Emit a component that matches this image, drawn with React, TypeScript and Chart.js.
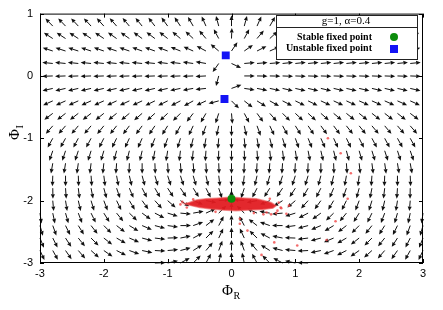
import React, { useEffect, useRef } from "react";
import { Chart, registerables } from "chart.js";

Chart.register(...registerables);

// ---- grid of the vector field ----
const gridX = [-3, -2.8, -2.6, -2.4, -2.2, -2, -1.8, -1.6, -1.4, -1.2, -1, -0.8, -0.6, -0.4, -0.2, 0, 0.2, 0.4, 0.6, 0.8, 1, 1.2, 1.4, 1.6, 1.8, 2, 2.2, 2.4, 2.6, 2.8, 3];
const gridY = [1, 0.8, 0.6, 0.4, 0.2, 0, -0.2, -0.4, -0.6, -0.8, -1, -1.2, -1.4, -1.6, -1.8, -2, -2.2, -2.4, -2.6, -2.8, -3];

// arrow direction (degrees, counter-clockwise from +Φ_R), one array per Φ_I row
const angRowP10 = [133,133,133,132,132,131,130,129,128,127,125,122,118,112,102, 90, 78,68,62,58,55,53,52,51,50,49,48,48,47,47,47];
const angRowP08 = [134,134,134,133,133,132,131,130,129,128,126,124,120,114,105, 90, 75,66,60,56,54,52,51,50,49,48,47,47,46,46,46];
const angRowP06 = [147,147,147,147,146,146,145,145,144,143,142,140,137,130,118, 88, 62,50,43,40,38,37,36,35,35,34,34,33,33,33,33];
const angRowP04 = [162,162,162,162,162,161,161,161,160,160,159,158,156,152,140, 56, 35,27,24,22,21,20,20,19,19,19,18,18,18,18,18];
const angRowP02 = [174,174,174,174,174,174,174,174,174,174,173,173,172,170,235, 335, 5,5,5,6,6,6,6,6,6,6,6,6,6,6,6];
const angRow000 = [182,182,182,182,182,182,182,182,182,182,182,182,182,183,255, null, 0,359,359,358,358,358,358,358,358,358,358,358,358,358,358];
const angRowM02 = [193,193,193,193,193,193,193,193,193,193,193,192,190,186,null, 20, 352,349,348,347,347,347,347,347,347,347,347,347,347,347,347];
const angRowM04 = [204,204,204,204,204,204,205,205,205,206,206,207,209,205,195, 315, 322,328,331,333,334,334,335,335,335,336,336,336,336,336,336];
const angRowM06 = [217,217,218,218,218,219,219,220,221,222,223,225,232,240,252, 275, 298,306,311,315,317,318,319,320,321,321,322,322,322,323,323];
const angRowM08 = [229,229,229,230,230,231,232,233,234,236,238,241,245,250,258, 270, 282,290,295,299,302,304,306,307,308,309,310,310,311,311,311];
const angRowM10 = [241,241,241,242,242,243,244,245,246,248,250,253,256,260,265, 270, 275,280,284,287,290,292,294,295,296,297,298,298,299,299,299];
const angRowM12 = [251,251,252,252,253,254,255,256,257,259,261,263,264,266,268, 270, 272,274,276,277,279,281,283,284,285,286,287,288,288,289,289];
const angRowM14 = [260,260,261,262,263,264,266,268,270,272,273,274,274,273,272, 270, 268,267,266,266,267,268,270,272,274,276,277,278,279,280,280];
const angRowM16 = [267,268,270,272,274,277,280,283,285,287,288,288,286,283,277, 270, 263,257,254,252,252,253,255,257,260,263,266,268,270,272,273];
const angRowM18 = [269,271,274,277,281,285,289,293,297,300,303,304,302,297,288, 270, 252,243,238,236,237,240,243,247,251,255,259,263,266,269,271];
const angRowM20 = [269,275,279,283,287,291,296,301,306,312,319,327,338,350,5, 90, 175,190,202,213,221,228,234,239,244,249,253,257,261,265,271];
const angRowM22 = [278,282,286,291,296,302,309,316,324,333,343,355,10,25,45, 90, 135,155,170,185,197,207,216,224,231,238,244,249,254,258,262];
const angRowM24 = [286,290,296,302,308,315,322,329,337,345,352,0,20,38,62, 90, 118,142,160,180,188,195,203,211,218,225,232,238,244,250,254];
const angRowM26 = [292,297,303,309,315,322,330,337,345,353,2,12,28,45,65, 90, 115,135,152,168,178,187,195,203,210,218,225,231,237,243,248];
const angRowM28 = [295,299,305,311,318,325,333,340,348,357,5,15,32,50,70, 90, 110,130,148,165,175,183,192,200,207,215,222,229,235,241,245];
const angRowM30 = [300,304,310,316,323,330,337,344,352,2,12,28,45,62,78, 90, 102,118,135,152,168,178,188,196,203,210,217,224,230,236,240];

const arrowAngles: (number | null)[][] = [
  angRowP10, angRowP08, angRowP06, angRowP04, angRowP02, angRow000, angRowM02,
  angRowM04, angRowM06, angRowM08, angRowM10, angRowM12, angRowM14, angRowM16,
  angRowM18, angRowM20, angRowM22, angRowM24, angRowM26, angRowM28, angRowM30,
];

// ---- fixed points ----
const stableX = [0];
const stableY = [-1.97];
const unstableX = [-0.09, -0.11];
const unstableY = [0.33, -0.37];

// ---- red cloud of simulated points (outline of the dense part) ----
const cloudX = [-0.74, -0.66, -0.55, -0.4, -0.24, -0.08, 0.07, 0.23, 0.39, 0.52, 0.62, 0.7, 0.65, 0.49, 0.28, 0.07, -0.14, -0.35, -0.5, -0.63];
const cloudY = [-2.05, -2.03, -1.99, -1.97, -1.96, -1.95, -1.95, -1.96, -1.97, -2.0, -2.03, -2.08, -2.12, -2.14, -2.15, -2.16, -2.15, -2.13, -2.11, -2.08];

// sparse red points
const speckX = [0.13, 0.13, 0.25, 0.67, 0.86, 1.03, 1.51, 1.71, 1.87, 1.82, 1.63, 1.49, 0.77, 0.47, -0.8, -0.77, -0.7, 0.74, 0.78, 0.72, 0.55, 0.35, -0.25, 0.9, 0.6, -0.6, 0.62, 0.7, 0.5];
const speckY = [-2.29, -2.37, -2.48, -2.67, -2.21, -2.72, -1.0, -1.24, -1.56, -1.97, -2.33, -2.63, -2.11, -2.87, -2.06, -2.02, -2.11, -2.03, -2.12, -2.16, -2.19, -2.2, -2.18, -2.08, -1.97, -1.98, -2.22, -2.2, -2.22];

// ---- axes ----
const xTicks = [-3, -2, -1, 0, 1, 2, 3];
const yTicks = [-3, -2, -1, 0, 1];
const legendTitle = "g=1, α=0.4";
const legendLabels = ["Stable fixed point", "Unstable fixed point"];

const ARROW_LEN = 10.5;
const HEAD_LEN = 4.5;
const HEAD_HALF = 2;
const GREEN = "#0c8c0c";
const BLUE = "#1414f5";

const fieldPlugin = {
  id: "field",
  beforeDatasetsDraw(chart: any) {
    const { ctx, chartArea: a, scales } = chart;
    const sx = scales.x, sy = scales.y;
    ctx.save();
    ctx.strokeStyle = "#111";
    ctx.fillStyle = "#111";
    ctx.lineWidth = 1;
    for (let r = 0; r < gridY.length; r++) {
      const row = arrowAngles[r];
      for (let c = 0; c < gridX.length; c++) {
        const ang = row[c];
        if (ang === null || ang === undefined) continue;
        const px = sx.getPixelForValue(gridX[c]);
        const py = sy.getPixelForValue(gridY[r]);
        const t = (ang * Math.PI) / 180;
        const ux = Math.cos(t), uy = -Math.sin(t);
        const hx = px + ARROW_LEN * ux, hy = py + ARROW_LEN * uy;
        const e = 0.01;
        if (hx < a.left - e || hx > a.right + e || hy < a.top - e || hy > a.bottom + e) continue;
        const bx = hx - HEAD_LEN * ux, by = hy - HEAD_LEN * uy;
        ctx.beginPath();
        ctx.moveTo(px, py);
        ctx.lineTo(bx, by);
        ctx.stroke();
        ctx.beginPath();
        ctx.moveTo(hx, hy);
        ctx.lineTo(bx - HEAD_HALF * uy, by + HEAD_HALF * ux);
        ctx.lineTo(bx + HEAD_HALF * uy, by - HEAD_HALF * ux);
        ctx.closePath();
        ctx.fill();
      }
    }
    // dense red cloud
    ctx.beginPath();
    for (let i = 0; i < cloudX.length; i++) {
      const px = sx.getPixelForValue(cloudX[i]);
      const py = sy.getPixelForValue(cloudY[i]);
      if (i === 0) ctx.moveTo(px, py);
      else ctx.lineTo(px, py);
    }
    ctx.closePath();
    ctx.fillStyle = "rgba(226,28,34,0.95)";
    ctx.fill();
    ctx.strokeStyle = "rgba(236,90,90,0.6)";
    ctx.lineWidth = 1.5;
    ctx.stroke();
    ctx.restore();
  },
  afterDatasetsDraw(chart: any) {
    const { ctx, chartArea: a, scales } = chart;
    const sx = scales.x, sy = scales.y;
    ctx.save();
    // frame
    ctx.strokeStyle = "#000";
    ctx.lineWidth = 1;
    ctx.strokeRect(a.left + 0.5, a.top + 0.5, a.right - a.left - 1, a.bottom - a.top - 1);
    // inward ticks
    ctx.beginPath();
    for (const v of xTicks) {
      const px = Math.round(sx.getPixelForValue(v)) + 0.5;
      ctx.moveTo(px, a.bottom);
      ctx.lineTo(px, a.bottom - 4);
      ctx.moveTo(px, a.top);
      ctx.lineTo(px, a.top + 4);
    }
    for (const v of yTicks) {
      const py = Math.round(sy.getPixelForValue(v)) + 0.5;
      ctx.moveTo(a.left, py);
      ctx.lineTo(a.left + 4, py);
      ctx.moveTo(a.right, py);
      ctx.lineTo(a.right - 4, py);
    }
    ctx.stroke();

    // legend box
    const L = 276.5, R = 417.5, T = 15.5, B = 59.5;
    ctx.fillStyle = "#fff";
    ctx.fillRect(L, T, R - L, B - T);
    ctx.strokeStyle = "#222";
    ctx.strokeRect(L, T, R - L, B - T);
    ctx.beginPath();
    ctx.moveTo(L, 27.5);
    ctx.lineTo(R, 27.5);
    ctx.stroke();
    ctx.fillStyle = "#000";
    ctx.textBaseline = "middle";
    ctx.textAlign = "center";
    ctx.font = "11px 'Liberation Serif', 'DejaVu Serif', serif";
    ctx.fillText(legendTitle, 346, 21.5);
    ctx.textAlign = "right";
    ctx.font = "bold 10px 'Liberation Serif', 'DejaVu Serif', serif";
    ctx.fillText(legendLabels[0], 372, 37);
    ctx.fillText(legendLabels[1], 372, 48.5);
    ctx.fillStyle = GREEN;
    ctx.beginPath();
    ctx.arc(394, 37, 4, 0, Math.PI * 2);
    ctx.fill();
    ctx.fillStyle = BLUE;
    ctx.fillRect(390, 45, 8, 8);

    // axis titles
    ctx.fillStyle = "#000";
    ctx.textAlign = "left";
    ctx.textBaseline = "alphabetic";
    ctx.font = "15px 'Liberation Serif', 'DejaVu Serif', serif";
    ctx.fillText("Φ", 222, 295);
    ctx.font = "10px 'Liberation Serif', 'DejaVu Serif', serif";
    ctx.fillText("R", 233.5, 298.5);

    ctx.save();
    ctx.translate(19, 140);
    ctx.rotate(-Math.PI / 2);
    ctx.font = "15px 'Liberation Serif', 'DejaVu Serif', serif";
    ctx.fillText("Φ", 0, 0);
    ctx.font = "10px 'Liberation Serif', 'DejaVu Serif', serif";
    ctx.fillText("I", 11.5, 3.5);
    ctx.restore();

    ctx.restore();
  },
};

export default function App() {
  const ref = useRef<HTMLCanvasElement | null>(null);

  useEffect(() => {
    document.body.style.margin = "0";
    const canvas = ref.current;
    if (!canvas) return;
    const tickFont = { family: "'Liberation Sans', Arial, sans-serif", size: 11 };
    const chart = new Chart(canvas, {
      type: "scatter",
      data: {
        datasets: [
          {
            label: "points",
            data: speckX.map((x, i) => ({ x, y: speckY[i] })),
            pointRadius: 1.3,
            pointBackgroundColor: "rgba(240,70,70,0.8)",
            pointBorderWidth: 0,
          },
          {
            label: legendLabels[0],
            data: stableX.map((x, i) => ({ x, y: stableY[i] })),
            pointStyle: "circle",
            pointRadius: 4,
            pointBackgroundColor: GREEN,
            pointBorderColor: GREEN,
            pointBorderWidth: 0,
          },
          {
            label: legendLabels[1],
            data: unstableX.map((x, i) => ({ x, y: unstableY[i] })),
            pointStyle: "rect",
            pointRadius: 5.6,
            pointBackgroundColor: BLUE,
            pointBorderColor: BLUE,
            pointBorderWidth: 0,
          },
        ],
      },
      options: {
        responsive: false,
        animation: false,
        devicePixelRatio: 1,
        events: [],
        layout: { padding: { top: 11, right: 20, left: 0, bottom: 0 } },
        plugins: { legend: { display: false }, tooltip: { enabled: false } },
        scales: {
          x: {
            type: "linear",
            min: -3,
            max: 3,
            grid: { display: false, drawTicks: false },
            border: { display: false },
            ticks: { stepSize: 1, padding: 4, color: "#000", font: tickFont },
            afterFit: (s: any) => { s.height = 47; },
          },
          y: {
            type: "linear",
            min: -3,
            max: 1,
            grid: { display: false, drawTicks: false },
            border: { display: false },
            ticks: { stepSize: 1, padding: 7, color: "#000", font: tickFont },
            afterFit: (s: any) => { s.width = 40; },
          },
        },
      },
      plugins: [fieldPlugin],
    } as any);
    return () => chart.destroy();
  }, []);

  return <canvas ref={ref} width={443} height={310} style={{ display: "block" }} />;
}
